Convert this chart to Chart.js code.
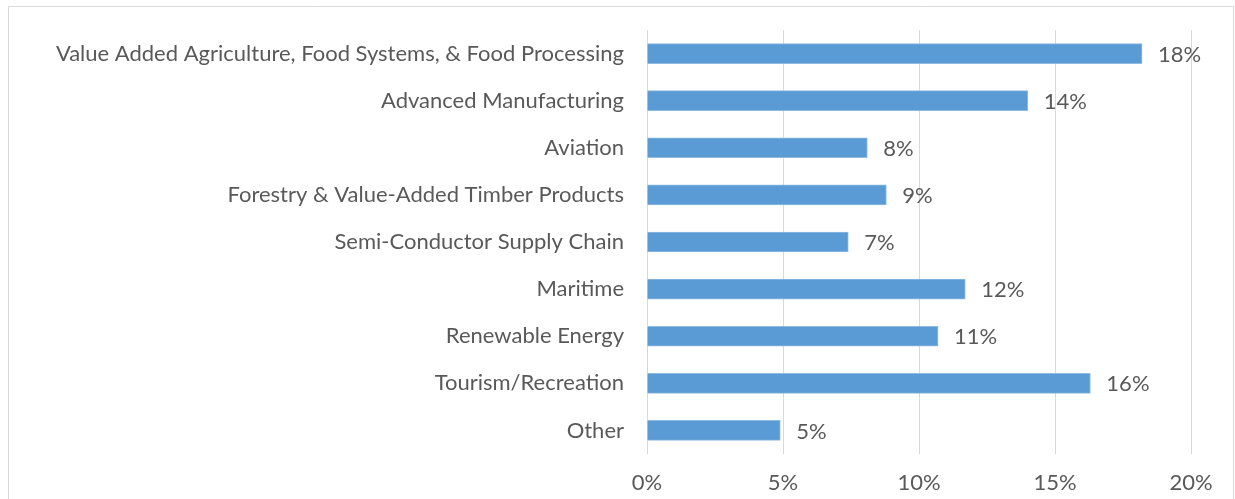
<!DOCTYPE html>
<html>
<head>
<meta charset="utf-8">
<script src="https://cdn.jsdelivr.net/npm/chart.js@4"></script>
<style>
  html, body { margin: 0; padding: 0; background: #fff; }
  #wrap { position: relative; width: 1235px; height: 499px; }
</style>
</head>
<body>
<div id="wrap"><canvas id="sectorChart" width="1235" height="499"></canvas></div>
<script>
const sectors = [
    "Value Added Agriculture, Food Systems, & Food Processing",
    "Advanced Manufacturing",
    "Aviation",
    "Forestry & Value-Added Timber Products",
    "Semi-Conductor Supply Chain",
    "Maritime",
    "Renewable Energy",
    "Tourism/Recreation",
    "Other"
];
const shares = [18.2, 14.0, 8.1, 8.8, 7.4, 11.7, 10.7, 16.3, 4.9];
const xTicks = [0, 5, 10, 15, 20];

const textColor = "#595959";
const fontFamily = "Lato, 'Open Sans', sans-serif";
const fontSize = 22;

// light frame around the whole chart, open at the bottom
const framePlugin = {
    id: "frame",
    beforeDraw(chart) {
        const ctx = chart.ctx;
        ctx.save();
        ctx.strokeStyle = "#d9d9d9";
        ctx.lineWidth = 1;
        ctx.beginPath();
        ctx.moveTo(8.5, 505);
        ctx.lineTo(8.5, 6.5);
        ctx.lineTo(1233.5, 6.5);
        ctx.lineTo(1233.5, 505);
        ctx.stroke();
        ctx.restore();
    }
};

// percentage label just past the end of each bar
const valueLabels = {
    id: "valueLabels",
    afterDatasetsDraw(chart) {
        const ctx = chart.ctx;
        const meta = chart.getDatasetMeta(0);
        ctx.save();
        ctx.font = fontSize + "px " + fontFamily;
        ctx.fillStyle = textColor;
        ctx.textAlign = "left";
        ctx.textBaseline = "middle";
        meta.data.forEach((bar, i) => {
            const v = chart.data.datasets[0].data[i];
            ctx.fillText(Math.round(v) + "%", bar.x + 16, bar.y + 1);
        });
        ctx.restore();
    }
};

new Chart(document.getElementById("sectorChart"), {
    type: "bar",
    data: {
        labels: sectors,
        datasets: [{
            data: shares,
            backgroundColor: "#5b9bd5",
            borderColor: "#8fbbe3",
            borderWidth: 1,
            borderSkipped: "left",
            barThickness: 20
        }]
    },
    options: {
        indexAxis: "y",
        responsive: false,
        animation: false,
        layout: { padding: { left: 0, right: 44, top: 30, bottom: 0 } },
        plugins: {
            legend: { display: false },
            tooltip: { enabled: false }
        },
        scales: {
            x: {
                min: 0,
                max: 20,
                afterBuildTicks(scale) {
                    scale.ticks = xTicks.map(v => ({ value: v }));
                },
                afterFit(scale) {
                    scale.height = 45;
                    scale.paddingLeft = 0;
                    scale.paddingRight = 0;
                },
                grid: { color: "#d9d9d9", lineWidth: 1, drawTicks: false },
                border: { display: false },
                ticks: {
                    padding: 16,
                    color: textColor,
                    font: { family: fontFamily, size: fontSize },
                    callback: v => v + "%"
                }
            },
            y: {
                afterFit(scale) {
                    scale.width = 647;
                    scale.paddingTop = 0;
                    scale.paddingBottom = 0;
                },
                grid: { display: false, drawTicks: false },
                border: { display: false },
                ticks: {
                    padding: 23,
                    color: textColor,
                    font: { family: fontFamily, size: fontSize }
                }
            }
        }
    },
    plugins: [framePlugin, valueLabels]
});
</script>
</body>
</html>
